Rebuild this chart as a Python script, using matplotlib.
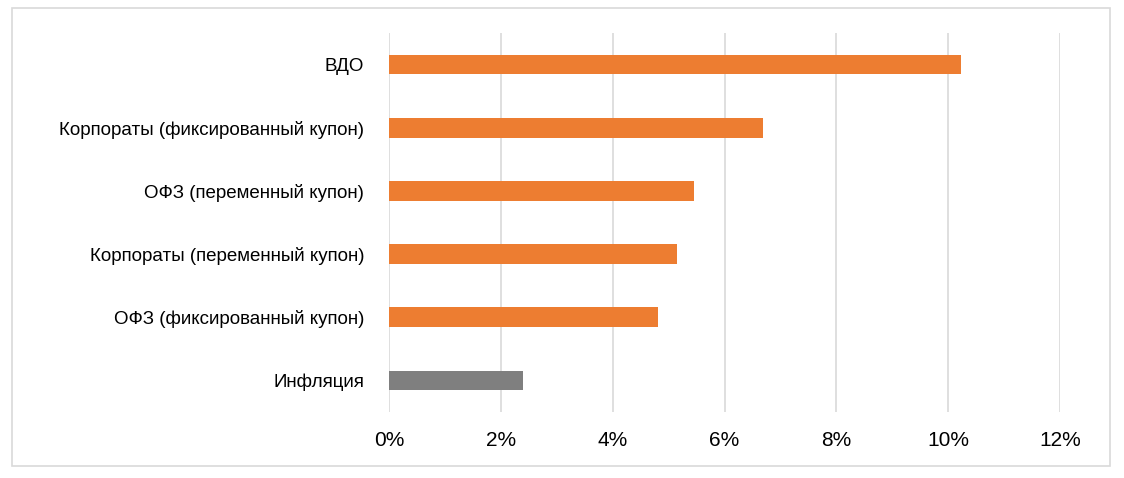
import matplotlib.pyplot as plt
from matplotlib.patches import Rectangle
from matplotlib.ticker import FuncFormatter

plt.rcParams['font.family'] = ['Liberation Sans', 'DejaVu Sans']

# === DATA ===
categories = ['Инфляция', 'ОФЗ (фиксированный купон)', 'Корпораты (переменный купон)',
              'ОФЗ (переменный купон)', 'Корпораты (фиксированный купон)', 'ВДО']
values = [2.40, 4.81, 5.15, 5.46, 6.69, 10.23]
colors = ['#7f7f7f', '#ed7d31', '#ed7d31', '#ed7d31', '#ed7d31', '#ed7d31']

fig = plt.figure(figsize=(11.24, 4.78), dpi=100)
ax = fig.add_axes([389 / 1124, 1 - 412 / 478, (1060 - 389) / 1124, (412 - 33) / 478])

ax.barh(range(len(categories)), values, height=0.31, color=colors, zorder=3)
ax.set_xlim(0, 12)
ax.set_ylim(-0.5, len(categories) - 0.5)
ax.set_xticks(range(0, 13, 2))
ax.xaxis.set_major_formatter(FuncFormatter(lambda v, p: f'{v:.0f}%'))
ax.set_yticks(range(len(categories)))
ax.set_yticklabels(categories)
ax.tick_params(length=0, labelsize=13.5, pad=18, axis='y')
ax.tick_params(length=0, labelsize=15, pad=14, axis='x')
ax.grid(axis='x', color='#d9d9d9', linewidth=1.2, zorder=0)
for s in ax.spines.values():
    s.set_visible(False)

# outer chart border
fig.patches.append(Rectangle((12 / 1124, 1 - 466 / 478), 1098 / 1124, 458 / 478,
                             transform=fig.transFigure, fill=False,
                             edgecolor='#d9d9d9', linewidth=1.2))

fig.savefig('out.png', dpi=100)
